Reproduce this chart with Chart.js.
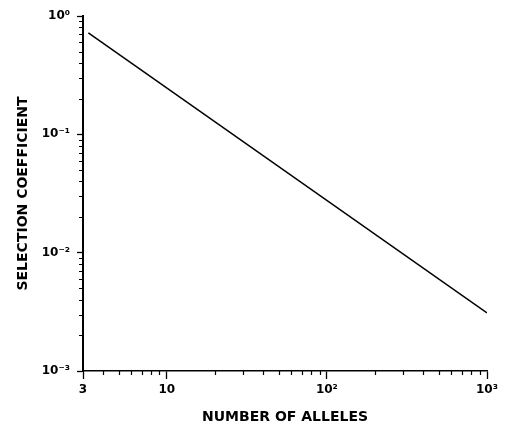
<!DOCTYPE html>
<html>
<head>
<meta charset="utf-8">
<script src="https://cdn.jsdelivr.net/npm/chart.js@4"></script>
<style>
html,body{margin:0;padding:0;background:#fff;}
#wrap{width:513px;height:426px;}
</style>
</head>
<body>
<div id="wrap"><canvas id="c" width="513" height="426"></canvas></div>
<script>
// Data (straight line on log-log axes)
const alleles = [3.24, 1000];
const selection = [0.72, 0.0031];

const xMajorTicks = [3, 10, 100, 1000];
const xMajorLabels = ['3', '10', '10²', '10³'];
const xMinorTicks = [4,5,6,7,8,9,20,30,40,50,60,70,80,90,200,300,400,500,600,700,800,900];
const yMajorTicks = [0.001, 0.01, 0.1, 1];
const yMajorLabels = ['10⁻³', '10⁻²', '10⁻¹', '10⁰'];
const yMinorTicks = [0.002,0.003,0.004,0.005,0.006,0.007,0.008,0.009,
                     0.02,0.03,0.04,0.05,0.06,0.07,0.08,0.09,
                     0.2,0.3,0.4,0.5,0.6,0.7,0.8,0.9];

const minorTickPlugin = {
  id: 'minorTicks',
  afterDraw(chart) {
    const ctx = chart.ctx;
    const xs = chart.scales.x, ys = chart.scales.y;
    ctx.save();
    ctx.strokeStyle = '#000';
    ctx.lineWidth = 1.2;
    ctx.beginPath();
    xMinorTicks.forEach(v => {
      const px = Math.round(xs.getPixelForValue(v)) + 0.5;
      ctx.moveTo(px, xs.top);
      ctx.lineTo(px, xs.top + 4);
    });
    yMinorTicks.forEach(v => {
      const py = Math.round(ys.getPixelForValue(v)) + 0.5;
      ctx.moveTo(ys.right, py);
      ctx.lineTo(ys.right - 4, py);
    });
    ctx.stroke();
    ctx.restore();
  }
};

const fontFamily = '"DejaVu Sans", "Liberation Sans", sans-serif';

new Chart(document.getElementById('c'), {
  type: 'line',
  data: {
    datasets: [{
      data: alleles.map((x, i) => ({x: x, y: selection[i]})),
      borderColor: '#000',
      borderWidth: 1.5,
      pointRadius: 0,
      tension: 0,
      fill: false
    }]
  },
  options: {
    responsive: false,
    animation: false,
    devicePixelRatio: 1,
    layout: {padding: {left: 0, right: 26, top: 16, bottom: 0}},
    plugins: {legend: {display: false}, tooltip: {enabled: false}},
    scales: {
      x: {
        type: 'logarithmic',
        min: 3, max: 1000,
        afterBuildTicks(s) { s.ticks = xMajorTicks.map(v => ({value: v, major: true})); },
        afterFit(s) { s.height = 55; },
        border: {display: true, color: '#000', width: 1.5},
        grid: {display: true, drawOnChartArea: false, drawTicks: true, tickLength: 8, tickColor: '#000', tickWidth: 1.3},
        ticks: {
          autoSkip: false, maxRotation: 0, padding: 4,
          color: '#000',
          font: {family: fontFamily, size: 12, weight: 'bold'},
          callback(v) { const i = xMajorTicks.indexOf(v); return i >= 0 ? xMajorLabels[i] : ''; }
        },
        title: {display: true, text: 'NUMBER OF ALLELES', color: '#000',
                font: {family: fontFamily, size: 14, weight: 'bold'}, padding: {top: 4, bottom: 0}}
      },
      y: {
        type: 'logarithmic',
        min: 0.001, max: 1,
        afterBuildTicks(s) { s.ticks = yMajorTicks.map(v => ({value: v, major: true})); },
        afterFit(s) { s.width = 83; },
        border: {display: true, color: '#000', width: 2},
        grid: {display: true, drawOnChartArea: false, drawTicks: true, tickLength: 6, tickColor: '#000', tickWidth: 1.3},
        ticks: {
          autoSkip: false, padding: 7,
          color: '#000',
          font: {family: fontFamily, size: 12, weight: 'bold'},
          callback(v) { const i = yMajorTicks.indexOf(v); return i >= 0 ? yMajorLabels[i] : ''; }
        },
        title: {display: true, text: 'SELECTION COEFFICIENT', color: '#000',
                font: {family: fontFamily, size: 14, weight: 'bold'}, padding: {top: 15, bottom: 0}}
      }
    }
  },
  plugins: [minorTickPlugin]
});
</script>
</body>
</html>
